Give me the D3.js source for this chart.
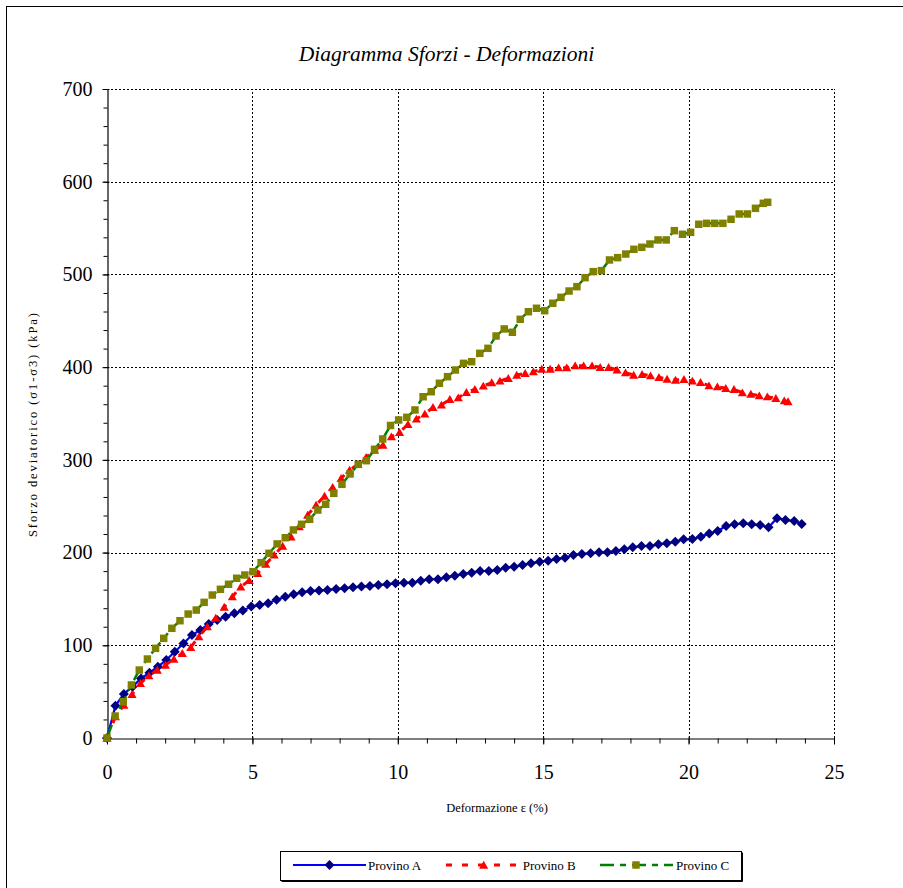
<!DOCTYPE html>
<html>
<head>
<meta charset="utf-8">
<script src="https://cdn.jsdelivr.net/npm/d3@7"></script>
<style>
  html, body { margin: 0; padding: 0; background: #fff; }
  svg { display: block; }
  text { font-family: "Liberation Serif", "Times New Roman", serif; fill: #000; }
</style>
</head>
<body>
<svg id="chart" width="903" height="888"></svg>
<script>
// ---------- data ----------
const seriesNames = ["Provino A", "Provino B", "Provino C"];

const strainA = [0, 0.29, 0.58, 0.88, 1.17, 1.46, 1.75, 2.04, 2.33, 2.63, 2.92, 3.21, 3.50, 3.79, 4.08, 4.38, 4.67, 4.96, 5.25, 5.54,
  5.83, 6.13, 6.42, 6.71, 7.00, 7.29, 7.58, 7.88, 8.17, 8.46, 8.75, 9.04, 9.33, 9.63, 9.92, 10.21, 10.50, 10.79, 11.08, 11.38,
  11.67, 11.96, 12.25, 12.54, 12.83, 13.13, 13.42, 13.71, 14.00, 14.29, 14.58, 14.88, 15.17, 15.46, 15.75, 16.04, 16.33, 16.63, 16.92, 17.21,
  17.50, 17.79, 18.08, 18.38, 18.67, 18.96, 19.25, 19.54, 19.83, 20.13, 20.42, 20.71, 21.00, 21.29, 21.58, 21.88, 22.17, 22.46, 22.75, 23.04,
  23.33, 23.63, 23.89];
const stressA = [0, 34.8, 47.5, 55.4, 64.3, 70.4, 76.9, 84.1, 93.1, 102, 111, 116.5, 123, 127.3, 130.9, 134.5, 137.4, 141.7, 143.5, 145.3,
  149, 152.4, 155, 157.2, 158.6, 159, 159.7, 160.7, 161.5, 162.5, 163.3, 164, 165, 165.8, 166.8, 167.5, 167.5, 169.7, 171.2, 171.2,
  173.3, 175.1, 176.9, 178.3, 180.1, 180.1, 181.2, 183.7, 184.8, 186.6, 188.4, 190.2, 191.3, 193.1, 194.5, 197.4, 198.5, 199.2, 200.3, 200.3,
  201.7, 203.5, 205.7, 207.1, 207.1, 208.9, 210, 211.8, 214.3, 214.6, 217.1, 220.7, 223.3, 228.7, 230.5, 231.6, 230.5, 229.7, 227.3, 237,
  235.1, 234, 230.8];

const strainB = [0, 0.29, 0.58, 0.86, 1.15, 1.44, 1.73, 2.01, 2.30, 2.59, 2.88, 3.16, 3.45, 3.74, 4.03, 4.31, 4.60, 4.89, 5.18, 5.46,
  5.75, 6.04, 6.33, 6.61, 6.90, 7.19, 7.48, 7.76, 8.05, 8.34, 8.63, 8.91, 9.20, 9.49, 9.78, 10.06, 10.35, 10.64, 10.93, 11.21,
  11.50, 11.79, 12.08, 12.36, 12.65, 12.94, 13.23, 13.51, 13.80, 14.09, 14.38, 14.66, 14.95, 15.24, 15.53, 15.81, 16.10, 16.39, 16.68, 16.96,
  17.25, 17.54, 17.83, 18.11, 18.40, 18.69, 18.98, 19.26, 19.55, 19.84, 20.13, 20.41, 20.70, 20.99, 21.28, 21.56, 21.85, 22.14, 22.43, 22.71,
  23.00, 23.29, 23.42];
const stressB = [0, 23, 35.6, 47.1, 59, 67.2, 73.3, 78.7, 85.2, 91.3, 97.8, 109.3, 120, 129.5, 141.3, 152.4, 163, 170, 177.6, 187.5,
  197.4, 207, 217, 228, 240.5, 251.3, 261, 270.4, 280.1, 289, 295.2, 302.7, 310.6, 316, 325, 329.7, 338.4, 344.1, 349.5, 356.7,
  359.2, 365.3, 367.1, 372.9, 376.1, 379.7, 383.3, 385.1, 388, 391.5, 393.4, 395.1, 398, 398, 399.4, 399.4, 401.6, 401.6, 401.6, 399.8,
  399.8, 397, 394, 391.5, 392.3, 390.8, 389, 387.2, 386.1, 386.9, 385.1, 383.7, 380, 378.9, 377.2, 376.1, 372.5, 371, 369.2, 368.1,
  366.4, 363.8, 362.8];

const strainC = [0, 0.28, 0.56, 0.84, 1.11, 1.39, 1.67, 1.95, 2.23, 2.51, 2.79, 3.07, 3.34, 3.62, 3.90, 4.18, 4.46, 4.74, 5.02, 5.30,
  5.57, 5.85, 6.13, 6.41, 6.69, 6.97, 7.25, 7.52, 7.80, 8.08, 8.36, 8.64, 8.92, 9.20, 9.48, 9.75, 10.03, 10.31, 10.59, 10.87,
  11.15, 11.43, 11.71, 11.98, 12.26, 12.54, 12.82, 13.10, 13.38, 13.66, 13.94, 14.21, 14.49, 14.77, 15.05, 15.33, 15.61, 15.89, 16.16, 16.44,
  16.72, 17.00, 17.28, 17.56, 17.84, 18.12, 18.39, 18.67, 18.95, 19.23, 19.51, 19.79, 20.07, 20.35, 20.62, 20.90, 21.18, 21.46, 21.74, 22.02,
  22.30, 22.57, 22.72];
const stressC = [0, 23.7, 39.2, 57.2, 73.3, 85.2, 96.7, 107.5, 118.3, 126.5, 133.7, 138, 146.3, 154.2, 160.4, 165.8, 172.3, 175.8, 179.4, 189.1,
  199.2, 209.3, 216, 224.4, 230.5, 235.9, 245.9, 252.1, 263.9, 273.6, 284.8, 295.2, 299.1, 311.4, 322.5, 337.1, 343, 345.9, 353.8, 368.1,
  373.5, 382.6, 389.7, 396.9, 404.1, 405.9, 414.9, 420.3, 433.6, 441.2, 437.6, 451.6, 459.8, 463.5, 460.9, 468.9, 475.3, 482.1, 486.8, 496.5,
  503, 504.1, 515.6, 518.1, 522, 527.1, 529.3, 532.8, 537.2, 537.2, 547.2, 543.3, 545.4, 554.1, 555.1, 555.1, 555.1, 559.5, 565.2, 565.2,
  571.3, 576.7, 577.8];

const xTicks = [0, 5, 10, 15, 20, 25];
const yTicks = [0, 100, 200, 300, 400, 500, 600, 700];

const titleText = "Diagramma Sforzi - Deformazioni";
const xLabel = "Deformazione ε (%)";
const yLabel = "Sforzo deviatorico (σ1-σ3) (kPa)";

// ---------- drawing ----------
const svg = d3.select("#chart");

// outer frame (only left/top visible)
svg.append("rect").attr("x", 6.5).attr("y", 6.5).attr("width", 1000).attr("height", 1000)
  .attr("fill", "none").attr("stroke", "#000").attr("stroke-width", 1);

const x = d3.scaleLinear().domain([0, 25]).range([107, 834]);
const y = d3.scaleLinear().domain([0, 700]).range([738, 89]);

// grid
const grid = svg.append("g");
grid.selectAll(".gy").data(yTicks.filter(d => d > 0)).join("line")
  .attr("x1", x(0)).attr("x2", x(25))
  .attr("y1", d => Math.round(y(d)) + 0.5).attr("y2", d => Math.round(y(d)) + 0.5)
  .attr("stroke", "#000").attr("stroke-width", 1).attr("stroke-dasharray", "2,2");
grid.selectAll(".gx").data(xTicks.filter(d => d > 0)).join("line")
  .attr("x1", d => Math.round(x(d)) + 0.5).attr("x2", d => Math.round(x(d)) + 0.5)
  .attr("y1", y(0)).attr("y2", y(700))
  .attr("stroke", "#000").attr("stroke-width", 1).attr("stroke-dasharray", "2,2");

// minor ticks
svg.append("g").attr("transform", "translate(107.5,0)")
  .call(d3.axisLeft(y).tickValues(d3.range(0, 701, 20)).tickSize(4).tickFormat(""))
  .call(g => g.select(".domain").remove());
svg.append("g").attr("transform", "translate(0,738.5)")
  .call(d3.axisBottom(x).tickValues(d3.range(0, 26, 1)).tickSize(5).tickFormat(""))
  .call(g => g.select(".domain").remove());

// y axis
const yAx = svg.append("g").attr("transform", "translate(107.5,0)")
  .call(d3.axisLeft(y).tickValues(yTicks).tickSize(5).tickSizeOuter(0).tickPadding(10));
yAx.selectAll("text").style("font-family", "Liberation Serif, serif").style("font-size", "20px");
yAx.selectAll(".tick line").attr("x1", 2);

// x axis
const xAx = svg.append("g").attr("transform", "translate(0,738.5)")
  .call(d3.axisBottom(x).tickValues(xTicks).tickSize(6).tickSizeOuter(0));
xAx.selectAll("text").attr("dy", null).attr("y", 40)
  .style("font-family", "Liberation Serif, serif").style("font-size", "20px");
xAx.selectAll(".tick line").attr("y1", -2);
svg.selectAll(".domain").attr("stroke", "#000").attr("stroke-width", 1.2);
svg.selectAll(".tick line").attr("stroke", "#000");

// series
const series = [
  { name: seriesNames[0], xs: strainA, ys: stressA, line: "#0000FF", dash: null, width: 2.2,
    marker: "diamond", fill: "#000080" },
  { name: seriesNames[1], xs: strainB, ys: stressB, line: "#FF0000", dash: "6,10", width: 3,
    marker: "triangle", fill: "#FF0000" },
  { name: seriesNames[2], xs: strainC, ys: stressC, line: "#008000", dash: "14,6,6,6", width: 2.5,
    marker: "square", fill: "#808000" }
];

const diamond = { draw(ctx, size) { const r = Math.sqrt(size / 2); ctx.moveTo(0, -r); ctx.lineTo(r, 0); ctx.lineTo(0, r); ctx.lineTo(-r, 0); ctx.closePath(); } };
const symbolFor = m => m === "diamond" ? d3.symbol(diamond, 50)
  : m === "triangle" ? d3.symbol(d3.symbolTriangle, 36)
  : d3.symbol(d3.symbolSquare, 56);

const lineGen = d3.line().x(d => x(d[0])).y(d => y(d[1]));

series.forEach(s => {
  const pts = s.xs.map((v, i) => [v, s.ys[i]]);
  const g = svg.append("g");
  g.append("path").datum(pts).attr("d", lineGen)
    .attr("fill", "none").attr("stroke", s.line).attr("stroke-width", s.width)
    .attr("stroke-dasharray", s.dash).attr("stroke-linejoin", "round");
  g.selectAll("path.m").data(pts).join("path").attr("class", "m")
    .attr("transform", d => `translate(${x(d[0])},${y(d[1]) + (s.marker === "triangle" ? 1 : 0)})`)
    .attr("d", symbolFor(s.marker)()).attr("fill", s.fill);
});

// title
svg.append("text").attr("x", 446.5).attr("y", 61).attr("text-anchor", "middle")
  .style("font-style", "italic").style("font-size", "21.5px").text(titleText);

// axis labels
svg.append("text").attr("x", 497).attr("y", 812).attr("text-anchor", "middle")
  .style("font-size", "12.5px").text(xLabel);
svg.append("text").attr("transform", "translate(37,425) rotate(-90)").attr("text-anchor", "middle")
  .attr("textLength", 224).attr("lengthAdjust", "spacing")
  .style("font-size", "12.5px").text(yLabel);

// legend
const lg = svg.append("g");
lg.append("rect").attr("x", 280.5).attr("y", 851.5).attr("width", 461).attr("height", 29)
  .attr("fill", "#fff").attr("stroke", "#000").attr("stroke-width", 1);
lg.append("path").attr("d", "M281.5,881.5 H742.5 V852.5").attr("fill", "none").attr("stroke", "#000").attr("stroke-width", 1);
const legendPos = [
  { x1: 293, x2: 366, mx: 329.5, tx: 368 },
  { x1: 446, x2: 516, mx: 483.7, tx: 522.7 },
  { x1: 600, x2: 673, mx: 636, tx: 676 }
];
series.forEach((s, i) => {
  const p = legendPos[i];
  lg.append("line").attr("x1", p.x1).attr("x2", p.x2).attr("y1", 865).attr("y2", 865)
    .attr("stroke", s.line).attr("stroke-width", s.width).attr("stroke-dasharray", s.dash);
  lg.append("path").attr("transform", `translate(${p.mx},${865 + (s.marker === "triangle" ? 1 : 0)})`)
    .attr("d", symbolFor(s.marker)()).attr("fill", s.fill);
  lg.append("text").attr("x", p.tx).attr("y", 869.5).style("font-size", "13px").text(s.name);
});
</script>
</body>
</html>
